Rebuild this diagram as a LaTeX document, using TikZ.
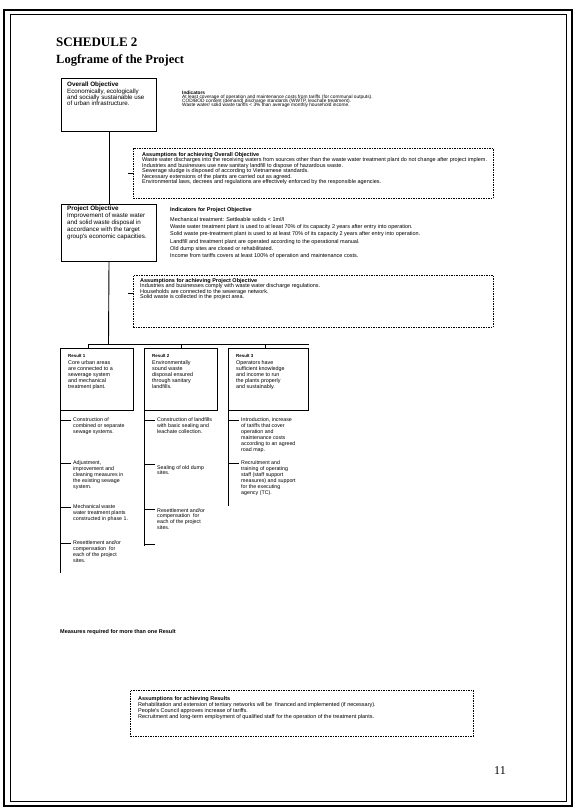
\documentclass[tikz,border=0pt]{standalone}
\usepackage{fontspec}
\setmainfont{Liberation Serif}
\newfontfamily\arialf{Liberation Sans}
\newcommand\myfs[2]{\arialf\fontsize{#1}{#2}\selectfont\lineskiplimit=-20pt\relax}
\begin{document}
\begin{tikzpicture}[x=1pt,y=-1pt,
  solidbox/.style={draw, line width=1pt, inner sep=0pt, rectangle, anchor=north west},
  dashbox/.style={draw, line width=0.6pt, dash pattern=on 1.5pt off 1pt, inner sep=0pt, rectangle, anchor=north west},
  conn/.style={line width=0.9pt},
  txt/.style={anchor=north west, inner sep=0pt, align=left},
  boxtitle/.style={txt, font={\myfs{6.3}{6.3}\bfseries}},
  boxbody/.style={txt, font=\myfs{6.2}{6}},
  dashtxt/.style={txt, font=\myfs{5.5}{5.4}},
  restitle/.style={txt, font={\myfs{4.4}{5}\bfseries}},
  resbody/.style={txt, font=\myfs{5.4}{6}},
  acttxt/.style={txt, font=\myfs{5.3}{5.9}},
]
\useasboundingbox (0,0) rectangle (576,809);
\fill[white] (0,0) rectangle (576,809);
% page border
\draw[line width=1.6pt] (4,10) rectangle (572,806);
\draw[line width=0.7pt] (10,14) rectangle (566,801);

% headings
\node[anchor=base west, inner sep=0pt, font=\fontsize{13}{15}\selectfont\bfseries] (sched) at (56,46) {SCHEDULE 2};
\node[anchor=base west, inner sep=0pt, font=\fontsize{12.5}{15}\selectfont\bfseries] (lfp) at (56,63.5) {Logframe of the Project};

% overall objective
\node[solidbox, minimum width=95pt, minimum height=53pt] (ov) at (61,78) {};
\node[boxtitle] (ovt) at (67,82) {Overall Objective};
\node[boxbody] (ovb) at (67,88.5) {Economically, ecologically\\and socially sustainable use\\of urban infrastructure.};

\node[txt, font=\myfs{4.8}{4.2}] (ind) at (182,90.7) {\textbf{Indicators}\\At least coverage of operation and maintenance costs from tariffs (for communal outputs).\\COD/BOD content (demand) discharge standards (WWTP, leachate treatment).\\Waste water/ solid waste tariffs < 3\% than average monthly household income.};

% assumptions overall objective
\node[dashbox, minimum width=360pt, minimum height=50pt] (aoo) at (133,148) {};
\node[dashtxt] (aoot) at (142,152.4) {\textbf{Assumptions for achieving Overall Objective}\\Waste water discharges into the receiving waters from sources other than the waste water treatment plant do not change after project implem.\\Industries and businesses use new sanitary landfill to dispose of hazardous waste.\\Sewerage sludge is disposed of according to Vietnamese standards.\\Necessary extensions of the plants are carried out as agreed.\\Environmental laws, decrees and regulations are effectively enforced by the responsible agencies.};

% project objective
\node[solidbox, minimum width=95pt, minimum height=57pt] (po) at (61,204) {};
\node[boxtitle] (pot) at (67,206) {Project Objective};
\node[boxbody, font=\myfs{6.2}{7}] (pob) at (67,213) {Improvement of waste water\\and solid waste disposal in\\accordance with the target\\group's economic capacities.};

\node[txt, font={\myfs{5.5}{5.5}\bfseries}] (ipot) at (170,207.4) {Indicators for Project Objective};
\node[txt, font=\myfs{5.5}{7.2}] (ipo) at (170,217.4) {Mechanical treatment: Settleable solids < 1ml/l\\Waste water treatment plant is used to at least 70\% of its capacity 2 years after entry into operation.\\Solid waste pre-treatment plant is used to at least 70\% of its capacity 2 years after entry into operation.\\Landfill and treatment plant are operated according to the operational manual.\\Old dump sites are closed or rehabilitated.\\Income from tariffs covers at least 100\% of operation and maintenance costs.};

% assumptions project objective
\node[dashbox, minimum width=360pt, minimum height=52pt] (apo) at (133,275) {};
\node[dashtxt] (apot) at (140,278.4) {\textbf{Assumptions for achieving Project Objective}\\Industries and businesses comply with waste water discharge regulations.\\Households are connected to the sewerage network.\\Solid waste is collected in the project area.};

% main spine
\coordinate (s1) at (128,173);
\coordinate (s2) at (128,293);
\coordinate (j) at (108.5,344);
\coordinate (hl) at (88,344);
\coordinate (hm) at (181,344);
\coordinate (hn) at (265,344);
\coordinate (hr) at (309,344);
\draw[conn] (ov.south) -- (po.north);
\draw[conn] (po.south) -- (j);
\draw[conn] (s1) -- (s1 -| aoo.west);
\draw[conn] (s2) -- (s2 -| apo.west);
\draw[conn] (hl) -- (hr);

% results
\node[solidbox, minimum width=73pt, minimum height=62pt] (r1) at (60,348) {};
\node[solidbox, minimum width=73pt, minimum height=62pt] (r2) at (144,348) {};
\node[solidbox, minimum width=80pt, minimum height=62pt] (r3) at (228,348) {};
\draw[conn] (hl) -- (hl |- r1.north);
\draw[conn] (hm) -- (hm |- r2.north);
\draw[conn] (hn) -- (hn |- r3.north);

\node[restitle] (r1t) at (68,354) {Result 1};
\node[resbody] (r1b) at (68,360.5) {Core urban areas\\are connected to a\\sewerage system\\and mechanical\\treatment plant.};
\node[restitle] (r2t) at (152,354) {Result 2};
\node[resbody] (r2b) at (152,360.5) {Environmentally\\sound waste\\disposal ensured\\through sanitary\\landfills.};
\node[restitle] (r3t) at (236,354) {Result 3};
\node[resbody] (r3b) at (236,360.5) {Operators have\\sufficient knowledge\\and income to run\\the plants properly\\and sustainably.};

% activity lines
\coordinate (e1) at (60,573);
\coordinate (e2) at (144,546);
\coordinate (e3) at (228,506);
\draw[conn] (r1.south west) -- (e1);
\draw[conn] (r2.south west) -- (e2);
\draw[conn] (r3.south west) -- (e3);

% activities result 1
\node[acttxt] (a11) at (73,417.5) {Construction of\\combined or separate\\sewage systems.};
\node[acttxt] (a12) at (73,460.5) {Adjustment,\\improvement and\\cleaning measures in\\the existing sewage\\system.};
\node[acttxt] (a13) at (73,504.5) {Mechanical waste\\water treatment plants\\constructed in phase 1.};
\node[acttxt] (a14) at (73,540.5) {Resettlement and/or\\compensation\ \ for\\each of the project\\sites.};
\foreach \n/\yy in {a11/420,a12/463,a13/507,a14/543}{
  \coordinate (k\n) at (71,\yy);
  \draw[conn] (r1.west |- k\n) -- (k\n);
}
% activities result 2
\node[acttxt] (a21) at (157,417.5) {Construction of landfills\\with basic sealing and\\leachate collection.};
\node[acttxt] (a22) at (157,465) {Sealing of old dump\\sites.};
\node[acttxt] (a23) at (157,508) {Resettlement and/or\\compensation\ \ for\\each of the project\\sites.};
\foreach \n/\yy in {a21/420,a22/464,a23/509,a24/544}{
  \coordinate (k\n) at (155,\yy);
  \draw[conn] (r2.west |- k\n) -- (k\n);
}
% activities result 3
\node[acttxt] (a31) at (241,417.5) {Introduction, increase\\of tariffs that cover\\operation and\\maintenance costs\\according to an agreed\\road map.};
\node[acttxt] (a32) at (241,460.5) {Recruitment and\\training of operating\\staff (staff support\\measures) and support\\for the executing\\agency (TC).};
\foreach \n/\yy in {a31/420,a32/463}{
  \coordinate (k\n) at (239,\yy);
  \draw[conn] (r3.west |- k\n) -- (k\n);
}

% measures
\node[txt, font={\myfs{5.5}{5.5}\bfseries}] (meas) at (60,629.4) {Measures required for more than one Result};

% assumptions results
\node[dashbox, minimum width=343pt, minimum height=46pt] (ar) at (130,690) {};
\node[txt, font=\myfs{5.5}{6}] (art) at (138,696.4) {\textbf{Assumptions for achieving Results}\\Rehabilitation and extension of tertiary networks will be\ \ financed and implemented (if necessary).\\People's Council approves increase of tariffs.\\Recruitment and long-term employment of qualified staff for the operation of the treatment plants.};

% page number
\node[anchor=base west, inner sep=0pt, font=\fontsize{12}{14}\selectfont] (pg) at (494,774) {11};
\end{tikzpicture}
\end{document}
